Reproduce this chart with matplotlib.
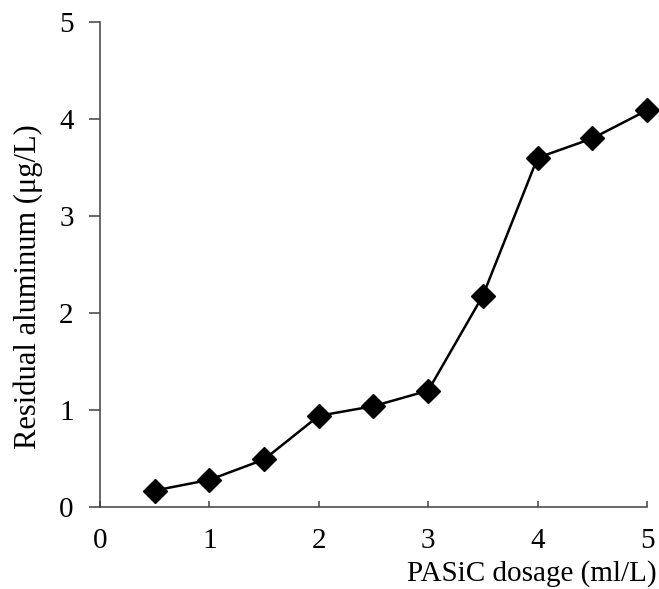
import matplotlib
matplotlib.use("Agg")
import matplotlib.pyplot as plt

# PASiC dosage (ml/L) vs residual aluminum (ug/L)
dosage = [0.5, 1.0, 1.5, 2.0, 2.5, 3.0, 3.5, 4.0, 4.5, 5.0]
residual_al = [0.17, 0.28, 0.49, 0.94, 1.04, 1.20, 2.18, 3.60, 3.80, 4.09]
x_ticks = [0, 1, 2, 3, 4, 5]
y_ticks = [0, 1, 2, 3, 4, 5]

plt.rcParams["font.family"] = ["Liberation Serif", "DejaVu Serif"]

fig = plt.figure(figsize=(6.59, 5.89), dpi=100)
ax = fig.add_axes([0.1517, 0.1392, 0.8301, 0.8234])

ax.plot(dosage, residual_al, color="black", linewidth=1.8,
        marker="D", markersize=12.5, markerfacecolor="black",
        markeredgecolor="black", clip_on=False, zorder=3)

ax.set_xlim(0, 5)
ax.set_ylim(0, 5)
ax.set_xticks(x_ticks)
ax.set_yticks(y_ticks)

for side in ("top", "right"):
    ax.spines[side].set_visible(False)
for side in ("left", "bottom"):
    ax.spines[side].set_color("#404040")
    ax.spines[side].set_linewidth(1.1)

ax.tick_params(axis="x", direction="in", length=4, width=1.1, color="#404040",
               pad=15, labelsize=21)
ax.tick_params(axis="y", direction="out", length=8, width=1.1, color="#404040",
               pad=11, labelsize=21)

fig.text(0.997, 0.027, "PASiC dosage (ml/L)", ha="right", va="center", fontsize=21)
fig.text(0.043, 0.514, "Residual aluminum (\u03bcg/L)", rotation=90,
         ha="center", va="center", fontsize=22)

fig.savefig("out.png", dpi=100)
